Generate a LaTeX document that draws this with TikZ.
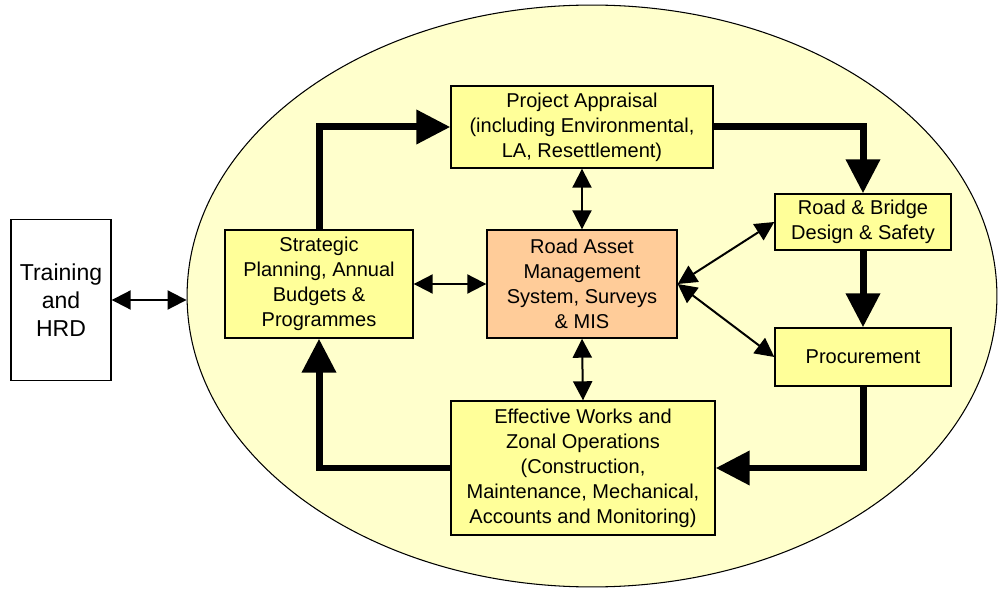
\documentclass[tikz,border=0pt]{standalone}
\usepackage{fontspec}
\setmainfont{Liberation Sans}
\usetikzlibrary{shapes.geometric, arrows.meta}
\definecolor{paleyellow}{HTML}{FFFFCC}
\definecolor{boxyellow}{HTML}{FFFF99}
\definecolor{boxorange}{HTML}{FFCC99}
\tikzstyle{outer} = [ellipse, minimum width=16.2cm, minimum height=11.64cm, inner sep=0pt, draw=black, line width=0.6pt, fill=paleyellow]
\tikzstyle{block} = [rectangle, align=center, text centered, draw=black, line width=0.8pt, fill=boxyellow, inner sep=2pt, font=\fontsize{11.4}{14.2}\selectfont]
\tikzstyle{side} = [rectangle, align=center, text centered, draw=black, line width=0.8pt, fill=white, font=\fontsize{13.1}{15.9}\selectfont]
\tikzstyle{flow} = [line width=0.14cm, -{Triangle[length=0.68cm, width=0.66cm]}]
\tikzstyle{link} = [line width=0.04cm, {Triangle[length=0.38cm, width=0.38cm]}-{Triangle[length=0.38cm, width=0.38cm]}]

\begin{document}
\begin{tikzpicture}[x=0.02cm, y=-0.02cm]
\useasboundingbox (0,0) rectangle (998,591);

\node[outer] (core) at (592,296) {};
\node[side, minimum width=2cm, minimum height=3.22cm] (train) at (61,300) {Training\\and\\HRD};
\node[block, minimum width=3.76cm, minimum height=2.16cm] (strat) at (319,284) {Strategic\\Planning, Annual\\Budgets \&\\Programmes};
\node[block, minimum width=5.24cm, minimum height=1.64cm] (proj) at (582,127) {Project Appraisal\\(including Environmental,\\LA, Resettlement)};
\node[block, fill=boxorange, minimum width=3.8cm, minimum height=2.16cm] (ram) at (582,284) {Road Asset\\Management\\System, Surveys\\\& MIS};
\node[block, minimum width=3.52cm, minimum height=1.12cm] (rbd) at (863,222) {Road \& Bridge\\Design \& Safety};
\node[block, minimum width=3.52cm, minimum height=1.16cm] (proc) at (863,357) {Procurement};
\node[block, minimum width=5.28cm, minimum height=2.68cm] (works) at (583,468) {Effective Works and\\Zonal Operations\\(Construction,\\Maintenance, Mechanical,\\Accounts and Monitoring)};

% main cycle
\draw[flow] (strat.north) |- (proj.west);
\draw[flow] (proj.east) -| (rbd.north);
\draw[flow] (rbd.south) -- (proc.north);
\draw[flow] (proc.south) |- (works.east);
\draw[flow] (works.west) -| (strat.south);

% links to the asset system
\draw[link] (train.east) -- (train.east -| core.west);
\draw[link] (strat.east) -- (ram.west);
\draw[link] (ram.north) -- (proj.south);
\draw[link] (ram.south) -- (works.north);
\draw[link] (ram.east) -- (rbd.west);
\draw[link] (ram.east) -- (proc.west);

\end{tikzpicture}
\end{document}
